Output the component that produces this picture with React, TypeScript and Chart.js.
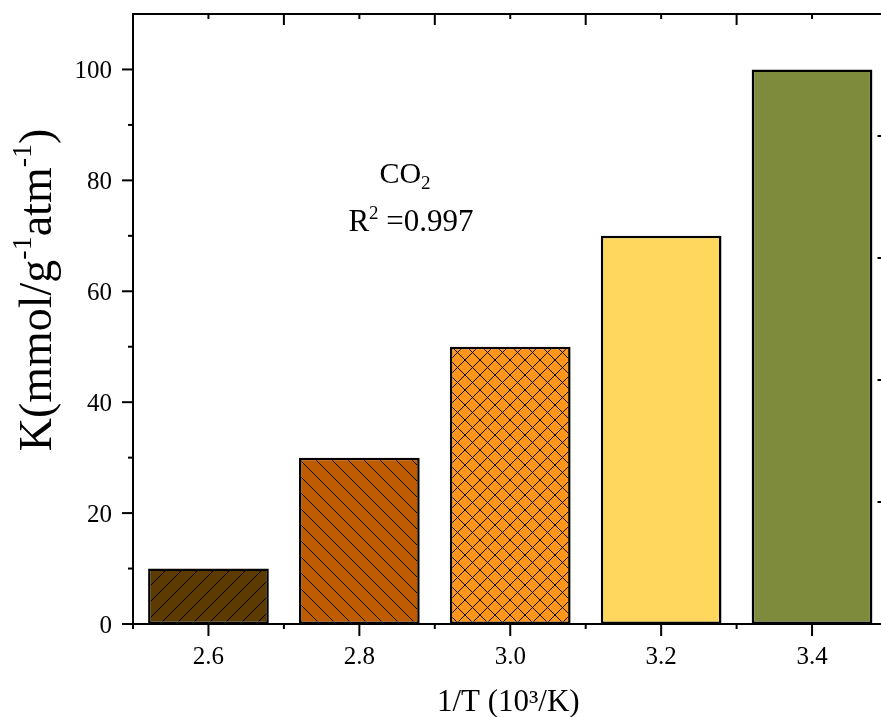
import React, { useEffect, useRef } from "react";
import { Chart, registerables } from "chart.js";

Chart.register(...registerables);

const categories = ["2.6", "2.8", "3.0", "3.2", "3.4"];
const values = [10, 30, 50, 70, 100];
const yTicks = [0, 20, 40, 60, 80, 100];
const yMinorTicks = [10, 30, 50, 70, 90];
const rightTicks = [1, 2, 3, 4];
const fills = ["#5C3A00", "#BF5B00", "#FF951A", "#FFD75C", "#7F8B3C"];
const hatches = ["fwd", "back", "cross", "none", "none"];

const W = 895;
const H = 717;
const FONT = '"Liberation Serif", "Times New Roman", serif';

function makePattern(color: string, kind: string): CanvasPattern | string {
  if (kind === "none") return color;
  const size = kind === "cross" ? 15 : 16;
  const c = document.createElement("canvas");
  c.width = size;
  c.height = size;
  const g = c.getContext("2d")!;
  g.fillStyle = color;
  g.fillRect(0, 0, size, size);
  g.strokeStyle = "#000";
  g.lineWidth = 1;
  const drawFwd = () => {
    for (const o of [-size, 0, size]) {
      g.beginPath();
      g.moveTo(o, size);
      g.lineTo(o + size, 0);
      g.stroke();
    }
  };
  const drawBack = () => {
    for (const o of [-size, 0, size]) {
      g.beginPath();
      g.moveTo(o, 0);
      g.lineTo(o + size, size);
      g.stroke();
    }
  };
  if (kind === "fwd") drawFwd();
  if (kind === "back") drawBack();
  if (kind === "cross") {
    drawFwd();
    drawBack();
  }
  return g.createPattern(c, "repeat")!;
}

const framePlugin = {
  id: "frame",
  afterDraw(chart: any) {
    const ctx = chart.ctx as CanvasRenderingContext2D;
    const { left, right, top, bottom } = chart.chartArea;
    const x = chart.scales.x;
    const y = chart.scales.y;
    const y2 = chart.scales.y2;
    ctx.save();
    ctx.strokeStyle = "#000";
    ctx.lineWidth = 2;
    ctx.strokeRect(left, top, right - left, bottom - top);

    const line = (x1: number, y1: number, x2: number, y2p: number) => {
      ctx.beginPath();
      ctx.moveTo(x1, y1);
      ctx.lineTo(x2, y2p);
      ctx.stroke();
    };
    yTicks.forEach((v) => {
      const py = y.getPixelForValue(v);
      line(left - 11, py, left, py);
    });
    yMinorTicks.forEach((v) => {
      const py = y.getPixelForValue(v);
      line(left - 5, py, left, py);
    });
    rightTicks.forEach((v) => {
      const py = y2.getPixelForValue(v);
      line(right - 10, py, right, py);
    });
    categories.forEach((_, i) => {
      const px = x.getPixelForValue(i);
      line(px, bottom, px, bottom + 12);
      line(px, top, px, top + 5);
    });
    for (let i = -1; i < categories.length; i++) {
      const px = (x.getPixelForValue(i) + x.getPixelForValue(i + 1)) / 2;
      line(px, bottom, px, bottom + 5);
      if (i >= 0 && i < categories.length - 1) line(px, top, px, top + 11);
    }

    ctx.fillStyle = "#000";
    ctx.font = `25px ${FONT}`;
    ctx.textAlign = "right";
    ctx.textBaseline = "alphabetic";
    yTicks.forEach((v) => {
      ctx.fillText(String(v), left - 21, y.getPixelForValue(v) + 8.5);
    });
    ctx.textAlign = "center";
    categories.forEach((lab, i) => {
      ctx.fillText(lab, x.getPixelForValue(i), bottom + 40);
    });

    ctx.font = `31px ${FONT}`;
    ctx.fillText("1/T (10³/K)", (left + right) / 2 - 2, 711);

    const ann = (parts: { t: string; s: number; dy: number }[], cx: number, by: number) => {
      let total = 0;
      parts.forEach((p) => {
        ctx.font = `${p.s}px ${FONT}`;
        total += ctx.measureText(p.t).width;
      });
      let cur = cx - total / 2;
      ctx.textAlign = "left";
      parts.forEach((p) => {
        ctx.font = `${p.s}px ${FONT}`;
        ctx.fillText(p.t, cur, by + p.dy);
        cur += ctx.measureText(p.t).width;
      });
    };
    ann([{ t: "CO", s: 30, dy: 0 }, { t: "2", s: 19, dy: 6 }], 405, 183);
    ann([{ t: "R", s: 31, dy: 0 }, { t: "2", s: 19, dy: -12 }, { t: " =0.997", s: 31, dy: 0 }], 411, 231);

    ctx.save();
    ctx.translate(51, 290);
    ctx.rotate(-Math.PI / 2);
    ann(
      [
        { t: "K(mmol/g", s: 46, dy: 0 },
        { t: "-1", s: 28, dy: -20 },
        { t: "atm", s: 46, dy: 0 },
        { t: "-1", s: 28, dy: -20 },
        { t: ")", s: 46, dy: 0 },
      ],
      0,
      0
    );
    ctx.restore();
    ctx.restore();
  },
};

export default function App() {
  const ref = useRef<HTMLCanvasElement>(null);
  useEffect(() => {
    const canvas = ref.current!;
    const bg = categories.map((_, i) => makePattern(fills[i], hatches[i]));
    const chart = new Chart(canvas, {
      type: "bar",
      data: {
        labels: categories,
        datasets: [
          {
            data: values,
            backgroundColor: bg as any,
            borderColor: "#000",
            borderWidth: 2.5,
            borderSkipped: false,
            categoryPercentage: 1,
            barPercentage: 0.8,
          },
        ],
      },
      options: {
        responsive: false,
        animation: false,
        events: [],
        layout: { padding: { left: 0, right: W - 887.5, top: 14, bottom: 0 } },
        plugins: { legend: { display: false }, tooltip: { enabled: false } },
        scales: {
          x: {
            type: "category",
            offset: true,
            grid: { display: false, drawTicks: false },
            border: { display: false },
            ticks: { display: false },
            afterFit: (s: any) => {
              s.height = H - 624;
            },
          },
          y: {
            min: 0,
            max: 110,
            grid: { display: false, drawTicks: false },
            border: { display: false },
            ticks: { display: false },
            afterFit: (s: any) => {
              s.width = 133;
            },
          },
          y2: {
            position: "right",
            min: 0,
            max: 5,
            display: false,
          },
        },
      },
      plugins: [framePlugin],
    });
    return () => chart.destroy();
  }, []);
  return (
    <div style={{ position: "fixed", left: 0, top: 0, width: 881, height: H, overflow: "hidden", background: "#fff" }}>
      <canvas ref={ref} width={W} height={H} style={{ width: W, height: H, display: "block" }} />
    </div>
  );
}
